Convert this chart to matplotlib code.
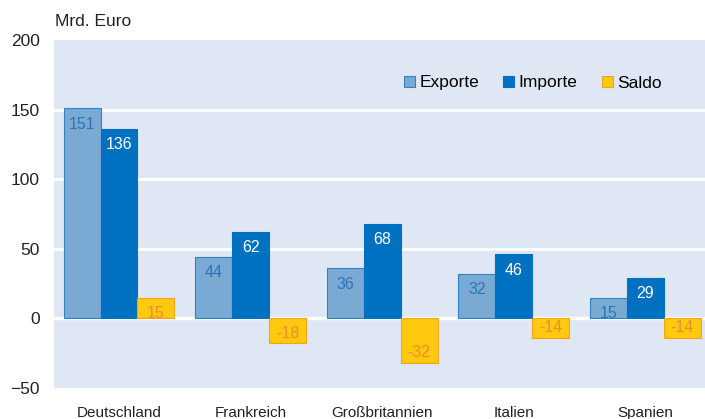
import numpy as np
import matplotlib.pyplot as plt

# Data (Mrd. Euro)
laender = ["Deutschland", "Frankreich", "Großbritannien", "Italien", "Spanien"]
exporte = [151, 44, 36, 32, 15]
importe = [136, 62, 68, 46, 29]
saldo = [15, -18, -32, -14, -14]

plt.rcParams['font.family'] = ['Liberation Sans', 'DejaVu Sans']

fig = plt.figure(figsize=(7.05, 4.19), dpi=100)
ax = fig.add_axes([54 / 705, 1 - 388 / 419, 651 / 705, 348 / 419])
ax.set_facecolor("#e0e7f4")

x = np.arange(len(laender))
w = 0.281

b1 = ax.bar(x - w, exporte, w, color="#7aaad4", edgecolor="#2f83c5", linewidth=0.8, label="Exporte", zorder=3)
b2 = ax.bar(x, importe, w, color="#0070c0", edgecolor="#0070c0", linewidth=0.8, label="Importe", zorder=3)
b3 = ax.bar(x + w, saldo, w, color="#ffc90e", edgecolor="#f7a21b", linewidth=0.8, label="Saldo", zorder=3)

def beschriften(bars, werte, farbe):
    for b, v in zip(bars, werte):
        xc = b.get_x() + b.get_width() / 2
        if v >= 0:
            ax.annotate(str(v), (xc, v), xytext=(0, -6), textcoords="offset points",
                        ha="center", va="top", color=farbe, fontsize=11.5, zorder=4)
        else:
            ax.annotate(str(v), (xc, v), xytext=(0, 2), textcoords="offset points",
                        ha="center", va="bottom", color=farbe, fontsize=11.5, zorder=4)

beschriften(b1, exporte, "#2a74b8")
beschriften(b2, importe, "white")
beschriften(b3, saldo, "#f08c30")

ax.set_ylim(-50, 200)
ax.set_xlim(-0.494, 4.453)
ax.set_yticks([-50, 0, 50, 100, 150, 200])
ax.set_xticks(x)
ax.set_xticklabels(laender)
for y in [0, 50, 100, 150]:
    ax.axhline(y, color="white", linewidth=2.5 if y == 0 else 2, zorder=1)

for s in ax.spines.values():
    s.set_visible(False)
ax.tick_params(axis="both", length=0, colors="#222222")
ax.tick_params(axis="y", labelsize=12.5, pad=10)
ax.tick_params(axis="x", labelsize=11, pad=13)

fig.text(55 / 705, 1 - 22 / 419, "Mrd. Euro", fontsize=12.5, color="#222222", va="center")

ax.legend(loc="center left", bbox_to_anchor=((395 - 54) / 651, (388 - 83) / 348), ncol=3,
          frameon=False, borderpad=0, fontsize=12.5, handlelength=0.64, handleheight=0.64,
          handletextpad=0.25, columnspacing=1.4)

fig.savefig("out.png", dpi=100)
